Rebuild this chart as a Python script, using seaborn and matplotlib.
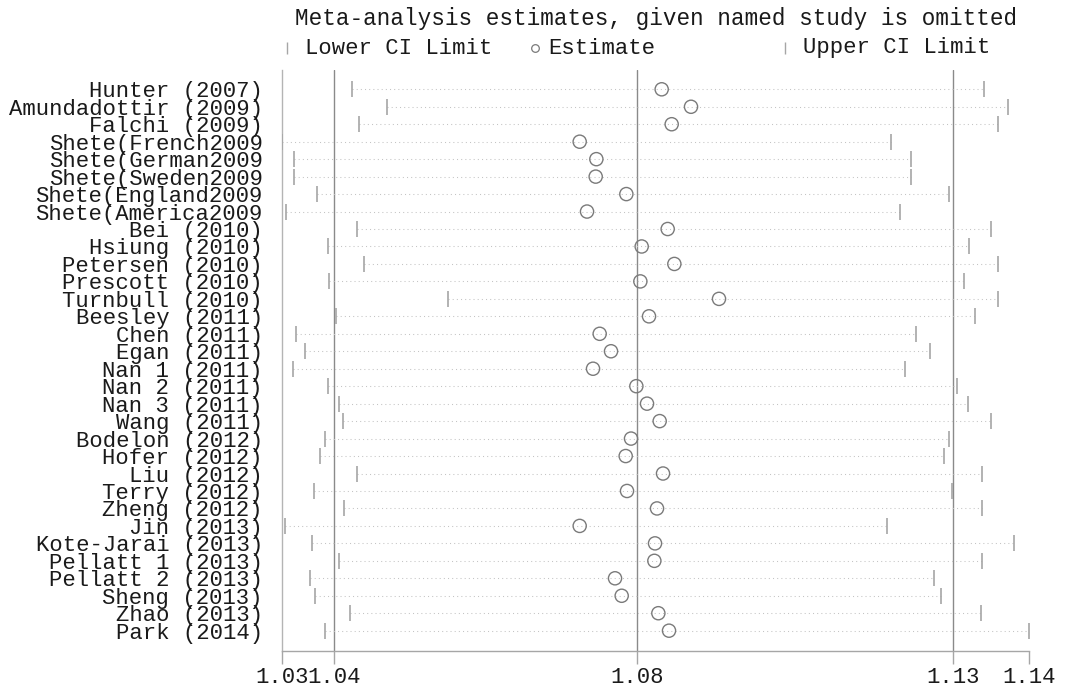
import matplotlib
matplotlib.use("Agg")
import matplotlib.pyplot as plt
from matplotlib.lines import Line2D
import numpy as np
import pandas as pd
import seaborn as sns

studies = ["Hunter (2007)", "Amundadottir (2009)", "Falchi (2009)",
           "Shete(French2009", "Shete(German2009", "Shete(Sweden2009",
           "Shete(England2009", "Shete(America2009", "Bei (2010)",
           "Hsiung (2010)", "Petersen (2010)", "Prescott (2010)",
           "Turnbull (2010)", "Beesley (2011)", "Chen (2011)", "Egan (2011)",
           "Nan 1 (2011)", "Nan 2 (2011)", "Nan 3 (2011)", "Wang (2011)",
           "Bodelon (2012)", "Hofer (2012)", "Liu (2012)", "Terry (2012)",
           "Zheng (2012)", "Jin (2013)", "Kote-Jarai (2013)",
           "Pellatt 1 (2013)", "Pellatt 2 (2013)", "Sheng (2013)",
           "Zhao (2013)", "Park (2014)"]

lower = [1.0406, 1.0458, 1.0416, 1.0300, 1.0319, 1.0318, 1.0353, 1.0306,
         1.0413, 1.0369, 1.0423, 1.0371, 1.0550, 1.0382, 1.0322, 1.0335,
         1.0317, 1.0370, 1.0386, 1.0392, 1.0365, 1.0358, 1.0413, 1.0349,
         1.0394, 1.0305, 1.0345, 1.0386, 1.0343, 1.0350, 1.0402, 1.0365]

estimate = [1.0870, 1.0914, 1.0885, 1.0747, 1.0772, 1.0771, 1.0817, 1.0758,
            1.0879, 1.0840, 1.0889, 1.0838, 1.0956, 1.0851, 1.0777, 1.0794,
            1.0767, 1.0832, 1.0848, 1.0867, 1.0824, 1.0816, 1.0872, 1.0818,
            1.0863, 1.0747, 1.0860, 1.0859, 1.0800, 1.0810, 1.0865, 1.0881]

upper = [1.1353, 1.1389, 1.1375, 1.1214, 1.1244, 1.1244, 1.1301, 1.1228,
         1.1364, 1.1331, 1.1375, 1.1324, 1.1375, 1.1340, 1.1252, 1.1273,
         1.1235, 1.1313, 1.1330, 1.1364, 1.1301, 1.1294, 1.1351, 1.1306,
         1.1351, 1.1208, 1.1399, 1.1351, 1.1278, 1.1289, 1.1349, 1.1421]

# axis ticks: min lower, overall lower CI, overall estimate, overall upper CI, max upper
tick_values = [1.0300, 1.0379, 1.0833, 1.1307, 1.1421]
tick_labels = ["1.03", "1.04", "1.08", "1.13", "1.14"]

title = "Meta-analysis estimates, given named study is omitted"
legend_labels = ["Lower CI Limit", "Estimate", "Upper CI Limit"]

df = pd.DataFrame({"study": studies, "lower": lower,
                   "estimate": estimate, "upper": upper})
df["row"] = np.arange(len(df))

sns.set_style("white")
plt.rcParams["font.family"] = ["Liberation Mono", "DejaVu Sans Mono"]

W, H = 1070, 688
fig = plt.figure(figsize=(W / 100, H / 100), dpi=100)
ax = fig.add_axes([281.7 / W, 1 - 650.7 / H, (1029 - 281.7) / W, (650.7 - 70) / H])

tick_col = "#a6a6a6"
ref_col = "#8a8a8a"

# reference lines
for v in tick_values[1:4]:
    ax.axvline(v, color=ref_col, lw=1.0, zorder=1)

# dotted connecting lines
ax.hlines(df["row"], df["lower"], df["upper"], colors="#c4c4c4",
          linestyles=(0, (1, 3)), lw=0.75, zorder=2)

# CI limits
sns.scatterplot(data=df, x="lower", y="row", marker="|", s=140,
                color=tick_col, linewidth=1.2, ax=ax, zorder=3, legend=False)
sns.scatterplot(data=df, x="upper", y="row", marker="|", s=140,
                color=tick_col, linewidth=1.2, ax=ax, zorder=3, legend=False)
# estimates
sns.scatterplot(data=df, x="estimate", y="row", marker="o", s=90,
                facecolor="none", edgecolor="#7a7a7a", linewidth=1.0,
                ax=ax, zorder=4, legend=False)

ax.set_xlim(tick_values[0], tick_values[-1])
ax.set_ylim(len(df) - 1 + 1.146, -1.105)

ax.set_xticks(tick_values)
ax.set_xticklabels(tick_labels, fontsize=16, color="#1a1a1a")
ax.set_yticks(df["row"])
ax.set_yticklabels(df["study"], fontsize=16, color="#1a1a1a")
ax.tick_params(axis="x", length=9, width=1, color=tick_col, pad=2.5, direction="out", bottom=True)
ax.tick_params(axis="y", length=0, pad=13.5)
ax.set_xlabel("")
ax.set_ylabel("")

for s in ["top", "right"]:
    ax.spines[s].set_visible(False)
ax.spines["left"].set_color("#b4b4b4")
ax.spines["left"].set_linewidth(1.0)
ax.spines["bottom"].set_color(tick_col)
ax.spines["bottom"].set_linewidth(1.0)

# title
fig.text(656.5 / W, 1 - 18 / H, title, ha="center", va="center",
         fontsize=16.3, color="#1a1a1a")

# legend row
ly = 1 - 48 / H
fig.add_artist(Line2D([286.7 / W], [ly], marker="|", ms=8, mew=1.0,
                      color=tick_col, transform=fig.transFigure, ls="none"))
fig.add_artist(Line2D([535 / W], [ly], marker="o", ms=5.5, mew=0.9,
                      mfc="none", mec="#7a7a7a", transform=fig.transFigure, ls="none"))
fig.add_artist(Line2D([785 / W], [ly], marker="|", ms=8, mew=1.0,
                      color=tick_col, transform=fig.transFigure, ls="none"))
for xp, lab in zip([305, 548, 803], legend_labels):
    fig.text(xp / W, ly, lab, ha="left", va="center", fontsize=16, color="#1a1a1a")

fig.savefig("out.png", dpi=100)
